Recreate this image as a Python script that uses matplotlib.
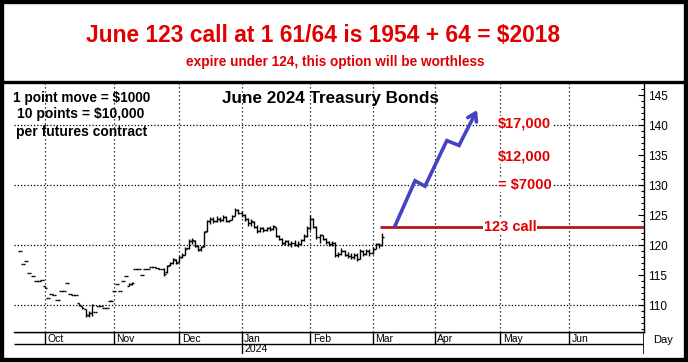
import matplotlib
matplotlib.use("Agg")
import matplotlib.pyplot as plt
from matplotlib.lines import Line2D
from matplotlib.patches import Rectangle
import numpy as np

plt.rcParams['font.family'] = ['Liberation Sans', 'DejaVu Sans']

# trading-day index, 0 = first session of October 2023
first_day = -8
opens = [119.0, 116.8, 117.3, 115.3, 114.8, 114.0, 114.0, 114.2, 113.2, 111.1,
         111.9, 111.7, 110.8, 112.3, 112.3, 113.7, 111.9, 111.7, 111.6, 110.3,
         109.9, 109.3, 108.3, 108.6, 108.8, 109.8, 109.8, 109.5, 109.5, 110.6,
         112.3, 113.5, 112.3, 114.0, 114.8, 113.2, 113.5, 116.0, 116.0, 115.0,
         116.0, 116.0, 116.4, 116.4, 116.2, 116.0, 116.0, 115.5, 116.6, 117.0,
         117.5, 117.2, 118.0, 118.4, 119.5, 120.7, 120.6, 119.8, 119.3, 119.8,
         122.3, 124.0, 124.3, 124.0, 124.3, 124.2, 124.6, 124.0, 124.2, 124.9,
         125.9, 125.4, 125.0, 124.3, 123.6, 123.9, 123.0, 122.4, 122.8, 122.5,
         122.8, 122.6, 123.0, 121.5, 121.0, 120.3, 120.6, 120.1, 120.4, 120.0,
         120.2, 120.8, 121.5, 122.9, 124.4, 123.0, 121.3, 121.6, 121.0, 120.5,
         120.2, 120.4, 118.3, 118.5, 119.0, 118.4, 118.2, 118.0, 118.3, 117.7,
         119.0, 118.5, 119.0, 118.6, 119.4, 120.1, 120.0]
highs = [119.0, 116.8, 117.3, 115.3, 114.8, 114.0, 114.0, 114.2, 113.2, 111.1,
         111.9, 111.7, 110.8, 112.3, 112.3, 113.7, 111.9, 111.7, 111.6, 110.3,
         109.9, 109.3, 109.0, 110.2, 108.8, 109.8, 109.8, 109.5, 109.5, 110.8,
         112.3, 113.5, 112.3, 114.0, 114.8, 113.6, 113.8, 116.0, 116.0, 115.0,
         116.0, 116.0, 116.4, 116.4, 116.2, 116.0, 116.2, 116.6, 117.2, 117.8,
         117.6, 118.2, 118.6, 119.6, 121.0, 121.1, 120.8, 120.0, 119.9, 122.4,
         124.2, 124.6, 124.6, 124.8, 124.7, 125.0, 124.9, 124.2, 125.0, 126.2,
         126.0, 125.6, 125.2, 124.5, 124.3, 124.0, 123.3, 123.0, 123.0, 123.0,
         123.2, 123.4, 123.0, 121.6, 121.2, 120.9, 120.8, 120.7, 120.8, 120.6,
         121.0, 121.8, 123.2, 125.0, 124.5, 123.1, 121.8, 121.7, 121.2, 120.7,
         120.6, 120.5, 118.8, 119.5, 119.2, 118.8, 118.6, 118.7, 118.6, 119.3,
         119.2, 119.3, 119.4, 119.6, 120.3, 120.3, 122.0]
lows = [119.0, 116.8, 117.3, 115.3, 114.8, 114.0, 114.0, 114.2, 112.8, 111.1,
        111.9, 111.7, 110.8, 112.3, 112.3, 113.7, 111.9, 111.7, 111.6, 109.9,
        109.4, 108.0, 108.0, 108.2, 108.8, 109.8, 109.8, 109.5, 109.5, 110.6,
        112.3, 113.5, 112.3, 114.0, 114.8, 113.1, 113.4, 116.0, 116.0, 115.0,
        116.0, 116.0, 116.4, 116.4, 116.2, 116.0, 114.8, 115.4, 116.5, 116.9,
        116.8, 117.1, 117.8, 118.3, 119.4, 120.2, 119.7, 119.0, 119.0, 119.7,
        122.2, 123.5, 123.7, 123.8, 123.9, 124.0, 123.8, 123.8, 124.1, 124.8,
        125.1, 124.6, 124.0, 123.2, 123.2, 122.8, 122.0, 122.2, 122.2, 122.3,
        122.4, 122.5, 121.3, 120.8, 120.0, 120.0, 119.8, 119.6, 119.8, 119.7,
        120.0, 120.6, 121.4, 122.5, 122.8, 121.0, 120.4, 120.8, 120.2, 119.9,
        119.8, 118.0, 118.0, 118.3, 118.2, 117.8, 117.6, 117.7, 117.3, 117.6,
        118.2, 118.3, 118.2, 118.5, 119.3, 119.5, 119.9]
closes = [119.0, 116.8, 117.3, 115.3, 114.8, 114.0, 114.0, 114.2, 112.8, 111.1,
          111.9, 111.7, 110.8, 112.3, 112.3, 113.7, 111.9, 111.7, 111.6, 110.0,
          109.5, 108.3, 108.6, 110.0, 108.8, 109.8, 109.8, 109.5, 109.5, 110.7,
          112.3, 113.5, 112.3, 114.0, 114.8, 113.5, 113.6, 116.0, 116.0, 115.0,
          116.0, 116.0, 116.4, 116.4, 116.2, 116.0, 115.2, 116.5, 117.0, 117.6,
          117.0, 118.0, 118.3, 119.4, 120.7, 120.9, 119.9, 119.2, 119.7, 122.2,
          124.0, 124.4, 124.0, 124.3, 124.1, 124.6, 124.0, 124.1, 124.8, 125.9,
          125.4, 125.0, 124.3, 123.6, 124.0, 123.0, 122.4, 122.8, 122.5, 122.8,
          122.6, 123.2, 121.5, 121.0, 120.3, 120.6, 120.1, 120.4, 120.0, 120.2,
          120.8, 121.5, 122.9, 124.4, 123.0, 121.3, 121.6, 121.0, 120.5, 120.2,
          120.4, 118.3, 118.5, 119.0, 118.4, 118.2, 118.0, 118.3, 117.6, 119.0,
          118.5, 119.0, 118.6, 119.4, 120.1, 120.0, 121.4]

month_names = ["Oct", "Nov", "Dec", "Jan", "Feb", "Mar", "Apr", "May", "Jun"]
month_start = [0, 22, 43, 63, 85, 105, 125, 146, 168]
year_label = "2024"

strike = 123
call_start = 107.4
# hand drawn projection arrow (day, price)
arrow_x = [112.2, 118.6, 121.8, 128.8, 132.7, 138.5]
arrow_y = [123.2, 130.7, 129.8, 137.4, 136.6, 142.5]

profit_labels = ["$17,000", "$12,000", "= $7000"]
profit_levels = [140.3, 134.8, 130.0]

W, H = 688, 362
RED = "#e00000"

def fx(px):
    return px / W

def fy(py):
    return 1 - py / H

fig = plt.figure(figsize=(W / 100, H / 100), dpi=100)

ax = fig.add_axes([fx(14), fy(332), fx(630), 249 / H])
ax.set_xlim(-9.94, 192.0)
ax.set_ylim(105.5, 147.0)

days = np.arange(first_day, first_day + len(closes))
ax.vlines(days, lows, highs, color="black", lw=1)
ax.hlines(opens, days - 0.65, days, color="black", lw=1)
ax.hlines(closes, days, days + 0.65, color="black", lw=1)

for m in month_start:
    ax.axvline(m, color="black", lw=0.9, ls=(0, (1, 2.2)), zorder=0)
for g in [110, 120, 130, 140]:
    ax.axhline(g, color="black", lw=0.9, ls=(0, (1, 1.6)), zorder=0)

for s in ["left", "top"]:
    ax.spines[s].set_visible(False)
ax.spines["right"].set_linewidth(1)
ax.spines["bottom"].set_linewidth(1)
ax.set_xticks([])
ax.yaxis.tick_right()
ax.set_yticks(np.arange(110, 146, 5))
ax.set_yticks(np.arange(106, 147, 1), minor=True)
ax.tick_params(axis="y", which="major", direction="in", length=4, width=0.8,
               pad=3, labelsize=8.5)
ax.tick_params(axis="y", which="minor", direction="in", length=2.5, width=0.8)

# call strike line
ax.hlines(strike, call_start, 192.0, color="#b01818", lw=2)
ax.text(149, strike, "123 call", color=RED, fontsize=10.5, fontweight="bold",
        ha="center", va="center",
        bbox=dict(facecolor="white", edgecolor="none", pad=0.5))

ax.plot(arrow_x[:-1], arrow_y[:-1], color="#4343c4", lw=2.6,
        solid_joinstyle="miter")
ax.annotate("", xy=(arrow_x[-1], arrow_y[-1]), xytext=(arrow_x[-2], arrow_y[-2]),
            arrowprops=dict(arrowstyle="->,head_length=0.55,head_width=0.35",
                            color="#4343c4", lw=2.6, shrinkA=0, shrinkB=0))

for lab, lev in zip(profit_labels, profit_levels):
    ax.text(145.2, lev, lab, color=RED, fontsize=10.5, fontweight="bold",
            ha="left", va="center",
            bbox=dict(facecolor="white", edgecolor="none", pad=0.3))

# date strip below the chart
axm = fig.add_axes([fx(14), fy(354), fx(630), 22 / H])
axm.set_xlim(-9.94, 192.0)
axm.set_ylim(22, 0)
axm.axis("off")
axm.hlines([0, 12], -9.94, 192.0, color="black", lw=1)
axm.vlines(month_start, 0, 12, color="black", lw=1)
axm.vlines(192.0, 0, 22, color="black", lw=1.2)
for m, name in zip(month_start, month_names):
    axm.text(m + 0.8, 6.5, name, fontsize=7.5, ha="left", va="center")
axm.vlines(month_start[3], 12, 22, color="black", lw=1)
axm.text(month_start[3] + 0.8, 17.3, year_label, fontsize=7.5, ha="left",
         va="center")
fig.text(fx(663), fy(340), "Day", fontsize=8, ha="center", va="center")

# headings
fig.text(fx(323), fy(35), "June 123 call at 1 61/64 is 1954 + 64 = $2018",
         color=RED, fontsize=16.4, fontweight="bold", ha="center", va="center")
fig.text(fx(335), fy(62), "expire under 124, this option will be worthless",
         color=RED, fontsize=9.8, fontweight="bold", ha="center", va="center")
fig.text(fx(330), fy(98), "June 2024 Treasury Bonds", fontsize=12.3,
         fontweight="bold", ha="center", va="center")
fig.text(fx(13), fy(98), "1 point move = $1000", fontsize=9.8, fontweight="bold",
         ha="left", va="center")
fig.text(fx(17), fy(114), "10 points = $10,000", fontsize=10, fontweight="bold",
         ha="left", va="center")
fig.text(fx(16), fy(132), "per futures contract", fontsize=10,
         fontweight="bold", ha="left", va="center")

# frame and separator of the heading box
fig.add_artist(Line2D([0, 1], [fy(81.5), fy(81.5)], transform=fig.transFigure,
                      color="black", lw=2.4))
fig.add_artist(Rectangle((0, 0), 1, 1, transform=fig.transFigure, fill=False,
                         edgecolor="black", lw=6))

fig.savefig("out.png", dpi=100)
